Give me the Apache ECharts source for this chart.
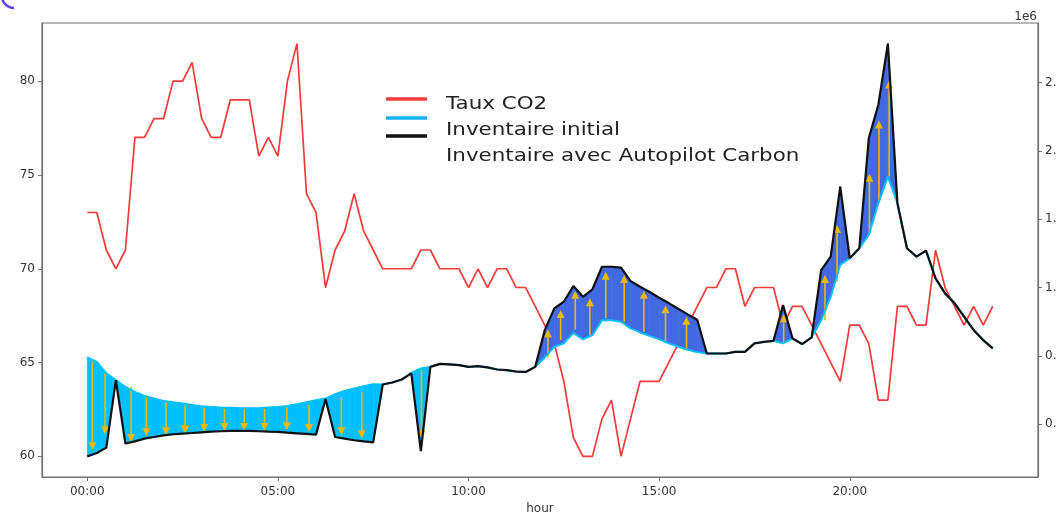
<!DOCTYPE html>
<html>
<head>
<meta charset="utf-8">
<script src="https://cdn.jsdelivr.net/npm/echarts@6/dist/echarts.min.js"></script>
<style>
html,body{margin:0;padding:0;background:#fff;}
#c{width:1056px;height:513px;}
</style>
</head>
<body>
<div id="c"></div>
<script>
// ---- data ----
const times = ["00:00","00:15","00:30","00:45","01:00","01:15","01:30","01:45","02:00","02:15","02:30","02:45",
"03:00","03:15","03:30","03:45","04:00","04:15","04:30","04:45","05:00","05:15","05:30","05:45",
"06:00","06:15","06:30","06:45","07:00","07:15","07:30","07:45","08:00","08:15","08:30","08:45",
"09:00","09:15","09:30","09:45","10:00","10:15","10:30","10:45","11:00","11:15","11:30","11:45",
"12:00","12:15","12:30","12:45","13:00","13:15","13:30","13:45","14:00","14:15","14:30","14:45",
"15:00","15:15","15:30","15:45","16:00","16:15","16:30","16:45","17:00","17:15","17:30","17:45",
"18:00","18:15","18:30","18:45","19:00","19:15","19:30","19:45","20:00","20:15","20:30","20:45",
"21:00","21:15","21:30","21:45","22:00","22:15","22:30","22:45","23:00","23:15","23:30","23:45"];

const co2 = [73,73,71,70,71,77,77,78,78,80,
80,81,78,77,77,79,79,79,76,77,
76,80,82,74,73,69,71,72,74,72,
71,70,70,70,70,71,71,70,70,70,
69,70,69,70,70,69,69,68,67,66,
64,61,60,60,62,63,60,62,64,64,
64,65,66,67,68,69,69,70,70,68,
69,69,69,67,68,68,67,66,65,64,
67,67,66,63,63,68,68,67,67,71,
69,68,67,68,67,68];

const inventaireInitial = [489000,457000,372000,323000,273000,237000,207000,188000,171000,161000,
152000,141000,132000,127000,122000,120000,117000,117000,117000,122000,
127000,134000,147000,161000,176000,188000,220000,244000,262000,279000,
293000,291000,306000,328000,376000,408000,420000,442000,438000,433000,
420000,425000,416000,401000,396000,386000,383000,420000,489000,567000,
592000,669000,621000,652000,762000,762000,750000,702000,672000,647000,
621000,592000,567000,545000,528000,518000,518000,518000,530000,530000,
592000,603000,611000,592000,628000,587000,636000,762000,933000,1166000,
1215000,1288000,1386000,1618000,1813000,1618000,1288000,1227000,1271000,1068000,
958000,885000,787000,689000,616000,555000];

const inventaireAutopilot = [-235000,-210000,-171000,323000,-141000,-125000,-105000,-93000,-81000,-73000,
-68000,-64000,-59000,-54000,-51000,-49000,-49000,-49000,-51000,-54000,
-56000,-61000,-66000,-71000,-76000,185000,-93000,-105000,-117000,-125000,
-132000,291000,306000,328000,372000,-196000,420000,442000,438000,433000,
420000,425000,416000,401000,396000,386000,383000,420000,689000,848000,
897000,1012000,933000,988000,1153000,1153000,1146000,1048000,1007000,968000,
926000,887000,845000,804000,765000,518000,518000,518000,530000,530000,
592000,603000,611000,872000,628000,587000,636000,1129000,1227000,1740000,
1215000,1288000,2095000,2339000,2786000,1618000,1288000,1227000,1271000,1068000,
958000,885000,787000,689000,616000,555000];

// arrows (time in minutes, start value, end value)
const arrowTimes = [8,28,69,93,124,154,184,216,247,279,314,349,400,432,526,
725,745,768,791,816,845,876,910,943,
1096,1161,1180,1231,1246,1262];
const arrowFrom = [457000,372000,273000,213000,163000,139000,127000,115000,115000,115000,127000,139000,200000,237000,396000,
489000,616000,694000,645000,775000,750000,677000,611000,543000,
592000,762000,1043000,1386000,1618000,1813000];
const arrowTo = [-191000,-73000,-130000,-88000,-81000,-68000,-56000,-49000,-49000,-49000,-44000,-56000,-81000,-105000,-105000,
694000,836000,977000,922000,1117000,1092000,977000,872000,787000,
806000,1092000,1459000,1833000,2224000,2517000];

const xTicks = [0,300,600,900,1200];
const leftTicks = [60,65,70,75,80];
const rightTicks = [0,500000,1000000,1500000,2000000,2500000];

const legendNames = ["Taux CO2","Inventaire initial","Inventaire avec Autopilot Carbon"];

// ---- build ----
const toMin = s => { const p = s.split(':'); return (+p[0])*60 + (+p[1]); };
const tMin = times.map(toMin);

const CYAN = '#00BFFF', ROYAL = '#4169E1', RED = '#f23a3a', BLACK = '#111111', ARROW = '#f2b705';
const AX = '#707070', LBL = '#333333';

const fillData = [];
for (let i = 0; i < tMin.length - 1; i++) {
  fillData.push([tMin[i], inventaireInitial[i], inventaireAutopilot[i], tMin[i+1], inventaireInitial[i+1], inventaireAutopilot[i+1]]);
}
const arrowData = arrowTimes.map((t, k) => [t, arrowFrom[k], arrowTo[k]]);

const chart = echarts.init(document.getElementById('c'), null, {renderer: 'canvas'});

const LEGEND_FONT = {fontFamily: 'DejaVu Sans', fontSize: 18, fontWeight: 'normal', fill: '#222222', verticalAlign: 'middle'};
const legendText = (txt, y) => ({type: 'text', x: 446, y: y, scaleX: 1.19, scaleY: 1,
  style: Object.assign({text: txt}, LEGEND_FONT)});

const option = {
  animation: false,
  backgroundColor: '#ffffff',
  grid: {left: 42, right: 18, top: 23, bottom: 36, containLabel: false, outerBoundsMode: 'none',
         show: true, borderColor: AX, borderWidth: 1.2, backgroundColor: 'transparent'},
  xAxis: {
    type: 'value', min: -71.25, max: 1496.25,
    name: 'hour', nameLocation: 'middle', nameGap: 25,
    nameTextStyle: {fontFamily: 'DejaVu Sans', fontSize: 12, color: LBL},
    axisLine: {show: true, onZero: false, lineStyle: {color: AX, width: 1.2}},
    axisTick: {show: true, customValues: xTicks, length: 4, lineStyle: {color: AX}},
    axisLabel: {customValues: xTicks, margin: 9, fontFamily: 'DejaVu Sans', fontSize: 12, color: LBL,
      formatter: v => { const h = Math.floor(v/60), m = v%60; return String(h).padStart(2,'0') + ':' + String(m).padStart(2,'0'); }},
    splitLine: {show: false}
  },
  yAxis: [
    {
      type: 'value', min: 58.9, max: 83.1, position: 'left',
      axisLine: {show: true, onZero: false, lineStyle: {color: AX, width: 1.2}},
      axisTick: {show: true, customValues: leftTicks, length: 4, lineStyle: {color: AX}},
      axisLabel: {customValues: leftTicks, margin: 7, fontFamily: 'DejaVu Sans', fontSize: 12, color: LBL},
      splitLine: {show: false}
    },
    {
      type: 'value', min: -386000, max: 2937000, position: 'right',
      axisLine: {show: true, onZero: false, lineStyle: {color: AX, width: 1.2}},
      axisTick: {show: true, customValues: rightTicks, length: 4, lineStyle: {color: AX}},
      axisLabel: {customValues: rightTicks, margin: 7, fontFamily: 'DejaVu Sans', fontSize: 12, color: LBL,
        formatter: v => (v/1e6).toFixed(1)},
      splitLine: {show: false}
    }
  ],
  graphic: [
    {type: 'arc', shape: {cx: 14, cy: -4, r: 12, startAngle: Math.PI * 0.5, endAngle: Math.PI}, style: {stroke: '#5b44f2', lineWidth: 2.5, fill: null}},
    {type: 'text', right: 19, top: 11, style: {text: '1e6', fontFamily: 'DejaVu Sans', fontSize: 12, fill: LBL}},
    {type: 'line', shape: {x1: 386, y1: 99, x2: 427, y2: 99}, style: {stroke: '#ff3b3b', lineWidth: 3.5}},
    {type: 'line', shape: {x1: 386, y1: 118, x2: 427, y2: 118}, style: {stroke: '#12b5f2', lineWidth: 3.5}},
    {type: 'line', shape: {x1: 386, y1: 136, x2: 427, y2: 136}, style: {stroke: '#111', lineWidth: 3.5}},
    legendText(legendNames[0], 104),
    legendText(legendNames[1], 130),
    legendText(legendNames[2], 156)
  ],
  series: [
    {
      name: legendNames[0], type: 'line', yAxisIndex: 0, z: 1,
      data: tMin.map((t, i) => [t, co2[i]]),
      showSymbol: false, lineStyle: {color: RED, width: 1.7}, itemStyle: {color: RED}
    },
    {
      type: 'custom', yAxisIndex: 1, z: 2, silent: true,
      data: fillData,
      encode: {x: [0, 3], y: [1, 2, 4, 5]},
      renderItem: (params, api) => {
        const x1 = api.value(0), a1 = api.value(1), b1 = api.value(2);
        const x2 = api.value(3), a2 = api.value(4), b2 = api.value(5);
        const d1 = a1 - b1, d2 = a2 - b2;
        const children = [];
        const poly = (pts, col) => children.push({type: 'polygon',
          shape: {points: pts.map(p => api.coord(p))},
          style: {fill: col, stroke: col, lineWidth: 0.6}});
        if (d1 * d2 >= 0) {
          if (d1 !== 0 || d2 !== 0) poly([[x1,a1],[x2,a2],[x2,b2],[x1,b1]], (d1 + d2) > 0 ? CYAN : ROYAL);
        } else {
          const t = d1 / (d1 - d2);
          const xm = x1 + t * (x2 - x1), ym = a1 + t * (a2 - a1);
          poly([[x1,a1],[xm,ym],[x1,b1]], d1 > 0 ? CYAN : ROYAL);
          poly([[xm,ym],[x2,a2],[x2,b2]], d2 > 0 ? CYAN : ROYAL);
        }
        return {type: 'group', children};
      }
    },
    {
      type: 'custom', yAxisIndex: 1, z: 3, silent: true,
      data: arrowData,
      encode: {x: 0, y: [1, 2]},
      renderItem: (params, api) => {
        const p1 = api.coord([api.value(0), api.value(1)]);
        const p2 = api.coord([api.value(0), api.value(2)]);
        const dir = p2[1] > p1[1] ? 1 : -1;
        const h = 8, w = 4;
        const base = p2[1] - dir * h;
        return {type: 'group', children: [
          {type: 'line', shape: {x1: p1[0], y1: p1[1], x2: p2[0], y2: base}, style: {stroke: ARROW, lineWidth: 1.6}},
          {type: 'polygon', shape: {points: [[p2[0], p2[1]], [p2[0] - w, base], [p2[0] + w, base]]}, style: {fill: ARROW}}
        ]};
      }
    },
    {
      name: legendNames[1], type: 'line', yAxisIndex: 1, z: 4,
      data: tMin.map((t, i) => [t, inventaireInitial[i]]),
      showSymbol: false, lineStyle: {color: CYAN, width: 2}, itemStyle: {color: CYAN}
    },
    {
      name: legendNames[2], type: 'line', yAxisIndex: 1, z: 5,
      data: tMin.map((t, i) => [t, inventaireAutopilot[i]]),
      showSymbol: false, lineStyle: {color: BLACK, width: 2.2}, itemStyle: {color: BLACK}
    }
  ]
};
chart.setOption(option);
</script>
</body>
</html>
